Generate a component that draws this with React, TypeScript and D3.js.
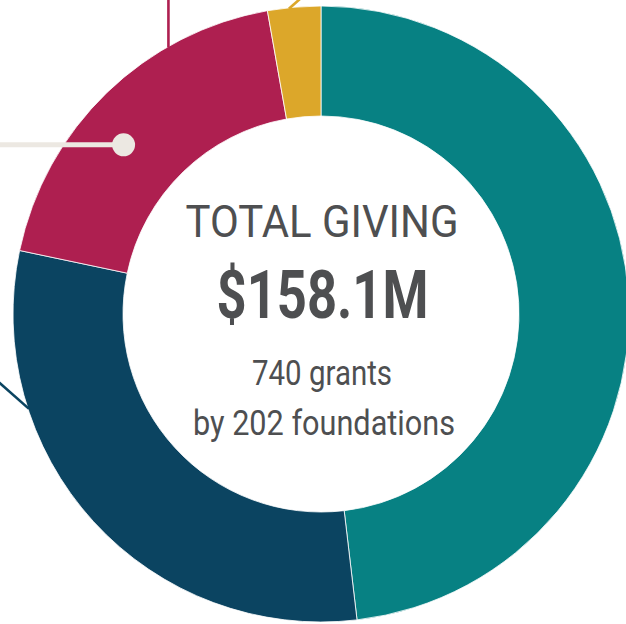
import React from "react";
import * as d3 from "d3";

const categories = ["Teal", "Navy", "Crimson", "Gold"];
const values = [76.1, 47.7, 29.9, 4.4];
const colors = ["#078183", "#0b4461", "#ae1f50", "#dca72a"];

const titleLines = ["TOTAL GIVING", "$158.1M", "740 grants", "by 202 foundations"];

// leader annotations: angle in degrees (clockwise from top) where they touch the ring
const leaderAngles = [330.2, 354, 252];
const leaderColors = ["#ae1f50", "#dca72a", "#0b4461"];
const leaderDirs = [
  [0, -1],
  [0.75, -0.66],
  [-0.75, -0.66],
];

export default function App() {
  const W = 626;
  const H = 624;
  const cx = 321;
  const cy = 314;
  const R = 308;
  const r = 198;

  const pie = d3.pie<number>().sort(null).value((d) => d);
  const arcs = pie(values);
  const arcGen = d3.arc<d3.PieArcDatum<number>>().innerRadius(r).outerRadius(R);

  const rad = (deg: number) => (deg * Math.PI) / 180;
  const onRing = (deg: number, rr: number) => [cx + rr * Math.sin(rad(deg)), cy - rr * Math.cos(rad(deg))];

  const dotPt = onRing(310.6, 260);

  const font = "Roboto, 'DejaVu Sans', sans-serif";
  const textCol = "#4e4f51";

  return (
    <div style={{ position: "absolute", left: 0, top: 0 }}>
      <svg width={W} height={H} style={{ display: "block" }}>
        <rect width={W} height={H} fill="#fff" />
        <g transform={`translate(${cx},${cy})`}>
          {arcs.map((a, i) => (
            <path key={categories[i]} d={arcGen(a) || ""} fill={colors[i]} stroke="#ffffff" strokeWidth={0.8} />
          ))}
        </g>
        {leaderAngles.map((ang, i) => {
          const [x1, y1] = onRing(ang, R - 1);
          const [dx, dy] = leaderDirs[i];
          return (
            <line
              key={i}
              x1={x1}
              y1={y1}
              x2={x1 + dx * 200}
              y2={y1 + dy * 200}
              stroke={leaderColors[i]}
              strokeWidth={2.6}
            />
          );
        })}
        <line x1={-10} y1={dotPt[1]} x2={dotPt[0]} y2={dotPt[1]} stroke="#ece8e2" strokeWidth={5} />
        <circle cx={dotPt[0]} cy={dotPt[1]} r={11.5} fill="#ece8e2" />

        <text x={322} y={237} textAnchor="middle" fontFamily={font} fontSize={45} fill={textCol}
          textLength={273} lengthAdjust="spacingAndGlyphs">{titleLines[0]}</text>
        <text x={322.5} y={318} textAnchor="middle" fontFamily={font} fontWeight={700} fontSize={67} fill={textCol}
          textLength={212} lengthAdjust="spacingAndGlyphs">{titleLines[1]}</text>
        <text x={322} y={385} textAnchor="middle" fontFamily={font} fontSize={35} fill={textCol}
          textLength={140} lengthAdjust="spacingAndGlyphs">{titleLines[2]}</text>
        <text x={324} y={435} textAnchor="middle" fontFamily={font} fontSize={35} fill={textCol}
          textLength={262} lengthAdjust="spacingAndGlyphs">{titleLines[3]}</text>
      </svg>
    </div>
  );
}
